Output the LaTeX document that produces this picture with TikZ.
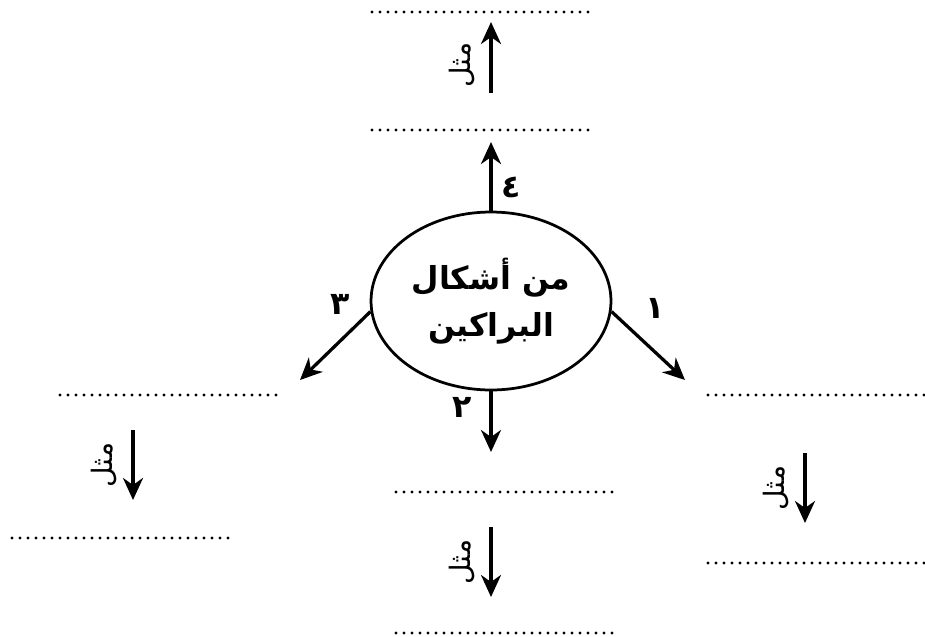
\documentclass[tikz,border=0pt]{standalone}
\usepackage{fontspec}
\newfontfamily\arabicfont[Script=Arabic]{DejaVu Sans}
\TeXXeTstate=1
\usetikzlibrary{shapes.geometric,arrows.meta}

\begin{document}
\begin{tikzpicture}[x=0.02cm, y=-0.02cm,
  >={Stealth[length=0.44cm, width=0.4cm, inset=0.14cm]},
  arr/.style={->, line width=0.065cm},
  dots/.style={line width=0.065cm, dash pattern=on 0cm off 0.16cm, line cap=round},
  num/.style={font=\arabicfont\bfseries\fontsize{18}{20}\selectfont},
  ex/.style={rotate=90, font=\arabicfont\fontsize{16}{18}\selectfont}]
\useasboundingbox (0,0) rectangle (925,636);

\node[ellipse, draw, line width=0.055cm, inner sep=0pt, minimum width=4.8cm, minimum height=3.56cm,
  align=center, font=\arabicfont\bfseries\fontsize{18}{27}\selectfont] (c) at (491,301)
  {\beginR من أشكال\endR\\\beginR البراكين\endR};

% top branch
\coordinate (t1) at (491,142);
\coordinate (t2) at (491,93);
\coordinate (t3) at (491,22);
\draw[dots] (372,130) -- (592,130);
\draw[dots] (372,12) -- (592,12);
\draw[arr] (c.north) -- (t1);
\draw[arr] (t2) -- (t3);
\node[num] (n4) at (511,187) {\beginR ٤\endR};
\node[ex] (e4) at (462,65) {\beginR مثل\endR};

% left branch
\coordinate (l1) at (300,380);
\coordinate (l2) at (133,430);
\coordinate (l3) at (133,500);
\draw[dots] (60,395) -- (280,395);
\draw[dots] (12,538) -- (232,538);
\draw[arr] (c.185) -- (l1);
\draw[arr] (l2) -- (l3);
\node[num] (n3) at (340,304) {\beginR ٣\endR};
\node[ex] (e3) at (104,465) {\beginR مثل\endR};

% bottom branch
\coordinate (b1) at (491,452);
\coordinate (b2) at (491,527);
\coordinate (b3) at (491,597);
\draw[dots] (396,492) -- (616,492);
\draw[dots] (396,633) -- (616,633);
\draw[arr] (c.south) -- (b1);
\draw[arr] (b2) -- (b3);
\node[num] (n2) at (462,407) {\beginR ٢\endR};
\node[ex] (e2) at (462,562) {\beginR مثل\endR};

% right branch
\coordinate (r1) at (685,380);
\coordinate (r2) at (805,453);
\coordinate (r3) at (805,523);
\draw[dots] (708,395) -- (925,395);
\draw[dots] (708,563) -- (925,563);
\draw[arr] (c.-5) -- (r1);
\draw[arr] (r2) -- (r3);
\node[num] (n1) at (655,308) {\beginR ١\endR};
\node[ex] (e1) at (776,488) {\beginR مثل\endR};
\end{tikzpicture}
\end{document}
